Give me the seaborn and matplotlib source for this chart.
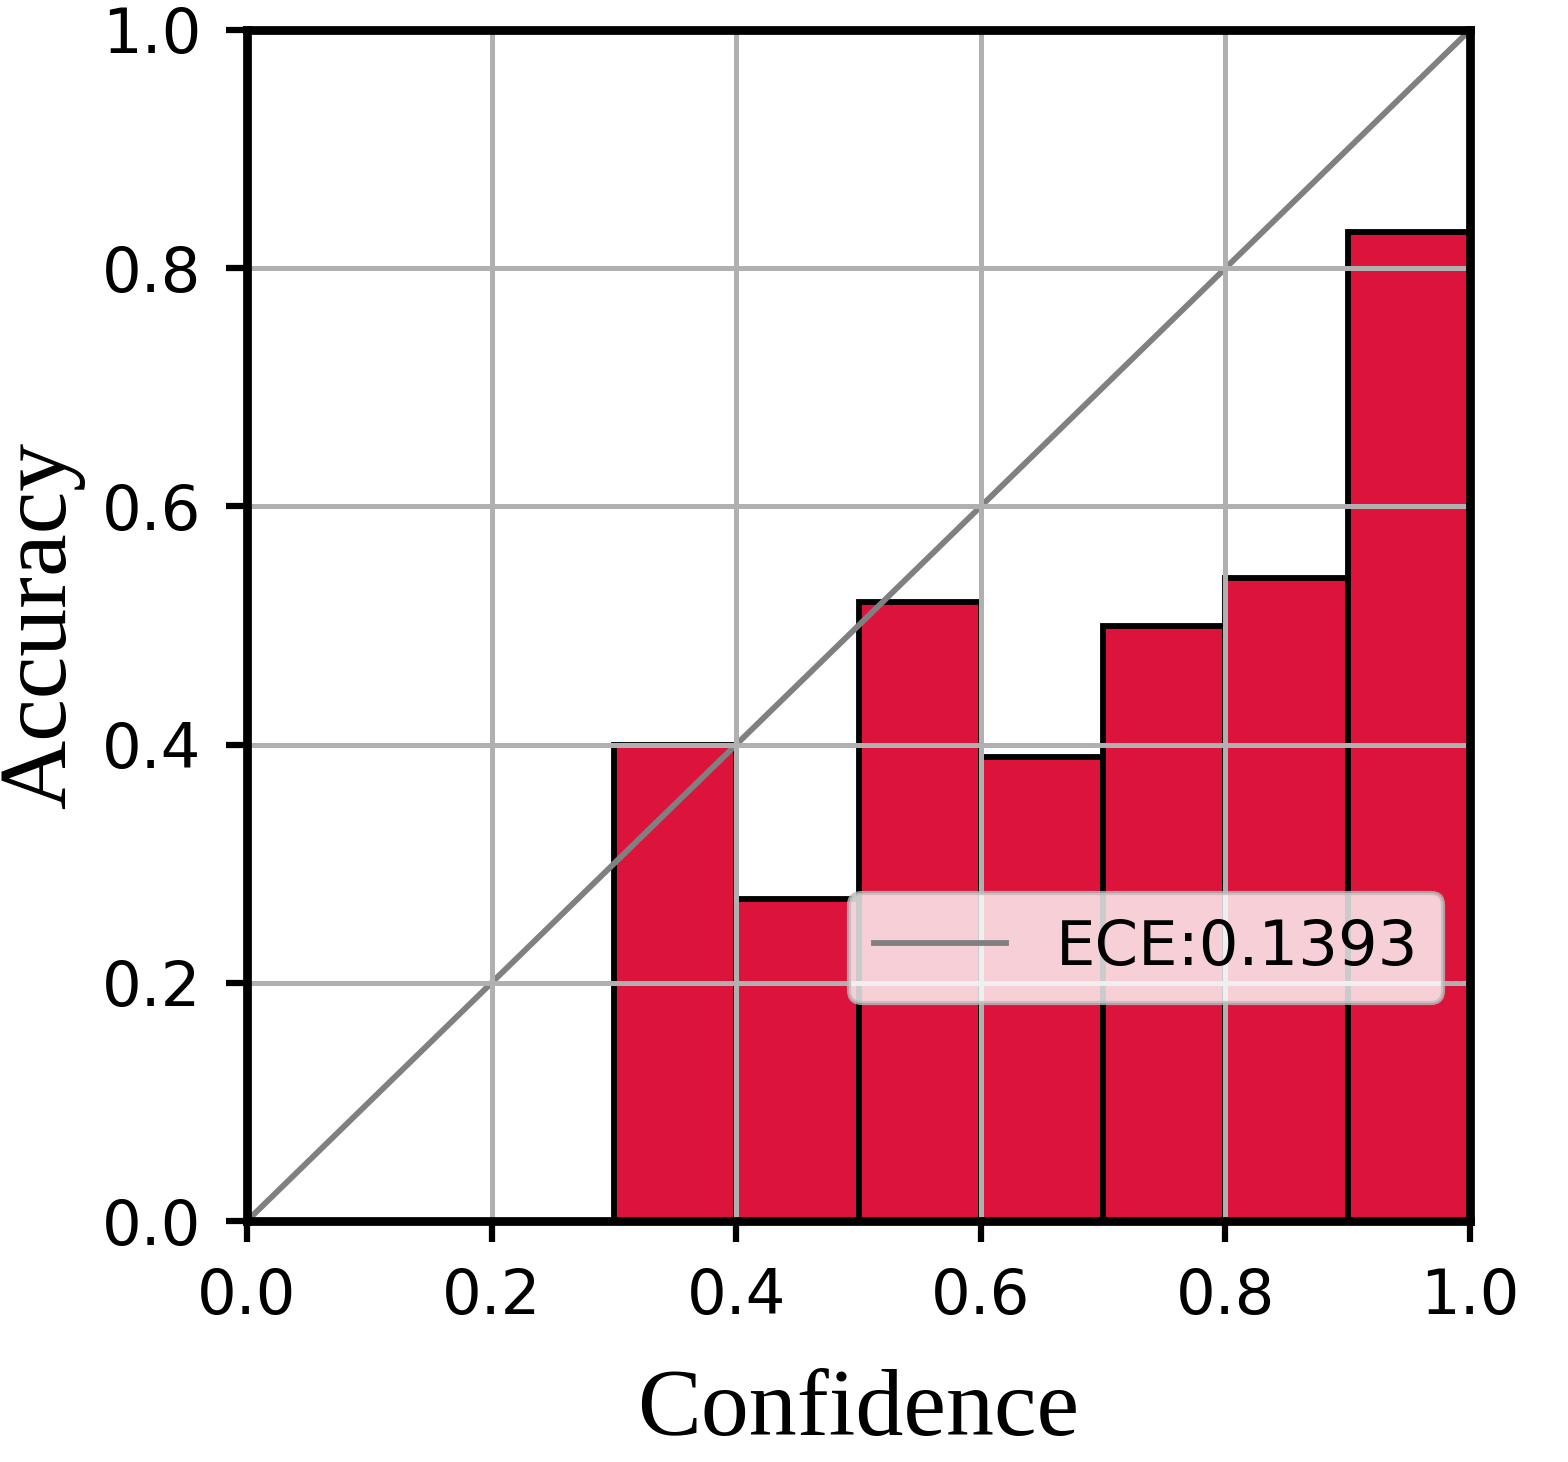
import numpy as np
import pandas as pd
import seaborn as sns
import matplotlib
matplotlib.use("Agg")
import matplotlib.pyplot as plt

# reliability diagram data (10 equal bins over confidence)
bin_edges = [0.0, 0.1, 0.2, 0.3, 0.4, 0.5, 0.6, 0.7, 0.8, 0.9, 1.0]
bin_centers = [0.05, 0.15, 0.25, 0.35, 0.45, 0.55, 0.65, 0.75, 0.85, 0.95]
bin_accuracy = [0.0, 0.0, 0.0, 0.40, 0.27, 0.52, 0.39, 0.50, 0.54, 0.83]
diag_x = [0.0, 1.0]
diag_y = [0.0, 1.0]
ece_label = "ECE:0.1393"
ticks = [0.0, 0.2, 0.4, 0.6, 0.8, 1.0]
tick_labels = ["0.0", "0.2", "0.4", "0.6", "0.8", "1.0"]

df = pd.DataFrame({"conf": bin_centers, "acc": bin_accuracy})

DPI = 300
fig = plt.figure(figsize=(1568 / DPI, 1462 / DPI), dpi=DPI)
ax = fig.add_axes([247 / 1568, 241 / 1462, 1223 / 1568, 1191 / 1462])

sns.histplot(data=df, x="conf", weights="acc", bins=bin_edges, ax=ax,
             color="crimson", edgecolor="black", linewidth=1.4, alpha=1.0)
sns.lineplot(x=diag_x, y=diag_y, ax=ax, color="gray", linewidth=1.4,
             label=ece_label)

ax.set_xlim(0, 1)
ax.set_ylim(0, 1)
ax.set_xticks(ticks)
ax.set_xticklabels(tick_labels)
ax.set_yticks(ticks)
ax.set_yticklabels(tick_labels)
ax.tick_params(axis="both", labelsize=15, length=5, width=1.5, pad=6,
               color="black", labelcolor="black")

ax.grid(True, color="#b0b0b0", linewidth=1.2)
ax.set_axisbelow(False)
for sp in ax.spines.values():
    sp.set_linewidth(2.1)
    sp.set_color("black")
    sp.set_zorder(10)

ax.set_xlabel("Confidence", family="Liberation Serif", fontsize=23, labelpad=10)
ax.set_ylabel("Accuracy", family="Liberation Serif", fontsize=23, labelpad=4)

leg = ax.legend(loc="upper right", bbox_to_anchor=(0.978, 0.2754),
                borderaxespad=0, fontsize=15, framealpha=0.8,
                handlelength=2.1)
leg.get_frame().set_edgecolor("#bbbbbb")

fig.savefig("out.png", dpi=DPI, facecolor="white")
